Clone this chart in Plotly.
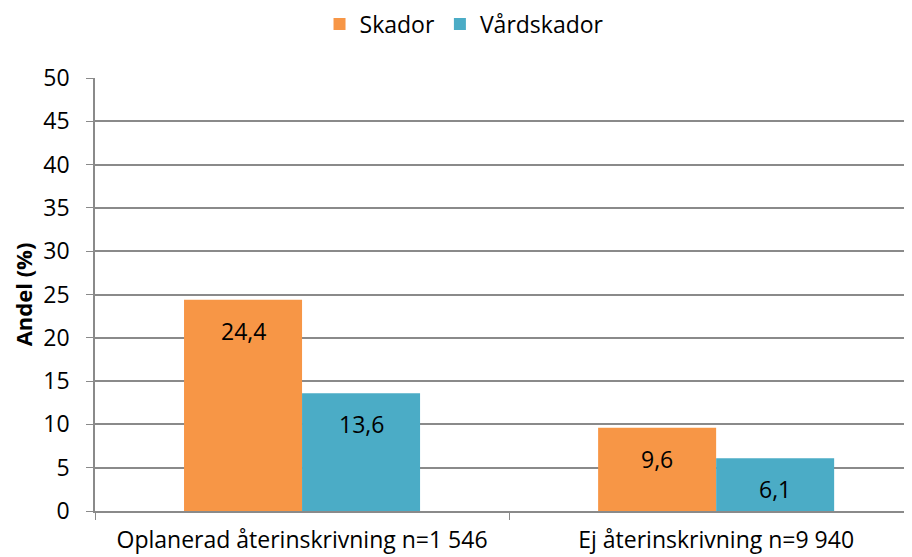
import plotly.graph_objects as go

categories = ['Oplanerad återinskrivning n=1 546', 'Ej återinskrivning n=9 940']
skador = [24.4, 9.6]
vardskador = [13.6, 6.1]
series_names = ['Skador', 'Vårdskador']
y_ticks = [0, 5, 10, 15, 20, 25, 30, 35, 40, 45, 50]

colors = ['#F79646', '#4BACC6']
font = 'Open Sans, Noto Sans, sans-serif'
bargap = 0.43

fig = go.Figure()
for name, vals, col in zip(series_names, [skador, vardskador], colors):
    fig.add_trace(go.Bar(name=name, x=categories, y=vals, marker_color=col,
                         marker_line_width=0))

# value labels sit a bit below the top of each bar
half = (1 - bargap) / 4
for k, vals in enumerate([skador, vardskador]):
    for i, v in enumerate(vals):
        fig.add_annotation(x=i + (2 * k - 1) * half, y=v, yshift=-31,
                           text=f'{v:.1f}'.replace('.', ','), showarrow=False,
                           font=dict(size=23, color='black'))

# page body adds an 8px offset, so the figure is 8px smaller each way
fig.update_layout(
    barmode='group', bargap=bargap, bargroupgap=0,
    width=904, height=549,
    margin=dict(l=87, r=0, t=70, b=46),
    paper_bgcolor='white', plot_bgcolor='white',
    font=dict(family=font, size=23, color='black'),
    legend=dict(orientation='h', x=0.505, xanchor='center', xref='container',
                y=1 - 16 / 549, yanchor='middle', yref='container',
                font=dict(size=23), itemwidth=30),
    yaxis=dict(range=[0, 50], tickvals=y_ticks, showgrid=True, gridcolor='#8a8a8a',
               gridwidth=1.5, showline=True, linecolor='#8a8a8a', linewidth=1.5,
               ticks='outside', ticklen=7, tickcolor='#8a8a8a', ticklabelstandoff=12,
               title=dict(text='<b>Andel (%)</b>', font=dict(size=22), standoff=12),
               zeroline=False, automargin=False),
    xaxis=dict(type='category', range=[-0.5, 1.473], showline=True, linecolor='#8a8a8a',
               linewidth=1.5, ticks='outside', tickson='boundaries', ticklen=7,
               tickcolor='#8a8a8a', showgrid=False, ticklabelstandoff=8,
               automargin=False),
)

fig.write_html('out.html')
